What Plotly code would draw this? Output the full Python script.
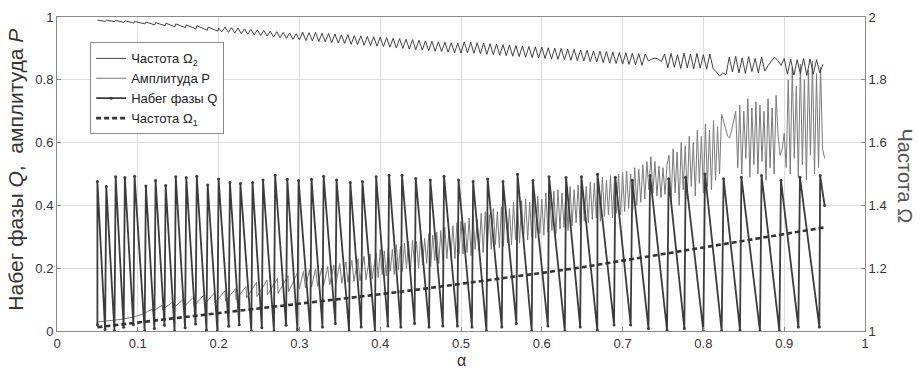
import plotly.graph_objects as go

# ---------------- data ----------------
# Phase shift Q: sawtooth (start, peaks, troughs, end)
Q_START = (0.050, 0.020)
Q_PEAK_ALPHA = [0.050, 0.061, 0.0726, 0.084, 0.096, 0.110, 0.122, 0.1345, 0.147, 0.160,
                0.173, 0.1865, 0.200, 0.214, 0.227, 0.242, 0.255, 0.270, 0.285, 0.299,
                0.315, 0.330, 0.346, 0.363, 0.378, 0.395, 0.411, 0.427, 0.444, 0.462,
                0.479, 0.497, 0.515, 0.533, 0.552, 0.570, 0.589, 0.609, 0.630, 0.649,
                0.669, 0.691, 0.712, 0.734, 0.757, 0.778, 0.802, 0.825, 0.847, 0.872,
                0.896, 0.9195, 0.9445]
Q_PEAK = [0.476, 0.460, 0.491, 0.489, 0.493, 0.462, 0.479, 0.463, 0.491, 0.489,
          0.493, 0.465, 0.484, 0.473, 0.470, 0.473, 0.481, 0.496, 0.483, 0.479,
          0.483, 0.493, 0.481, 0.473, 0.476, 0.491, 0.496, 0.496, 0.486, 0.481,
          0.493, 0.481, 0.476, 0.484, 0.476, 0.499, 0.479, 0.491, 0.489, 0.491,
          0.499, 0.490, 0.480, 0.495, 0.485, 0.490, 0.500, 0.485, 0.490, 0.495,
          0.480, 0.490, 0.495]
Q_TROUGH_ALPHA = [0.0595, 0.0711, 0.0825, 0.0945, 0.1085, 0.1205, 0.133, 0.1455, 0.1585, 0.1715,
                  0.185, 0.1985, 0.2125, 0.2255, 0.2405, 0.2535, 0.2685, 0.2835, 0.2975, 0.3135,
                  0.3285, 0.3445, 0.3615, 0.3765, 0.3935, 0.4095, 0.4255, 0.4425, 0.4605, 0.4775,
                  0.4955, 0.5135, 0.5315, 0.5505, 0.5685, 0.5875, 0.6075, 0.6285, 0.6475, 0.6687,
                  0.6894, 0.710, 0.732, 0.755, 0.7764, 0.7999, 0.8226, 0.8453, 0.870, 0.894,
                  0.9175, 0.9435]
Q_TROUGH = [0.005, 0.0, 0.012, 0.02, 0.0, 0.008, 0.018, 0.0, 0.01, 0.022,
            0.003, 0.0, 0.015, 0.02, 0.0, 0.01, 0.0, 0.018, 0.005, 0.0,
            0.013, 0.024, 0.0, 0.013, 0.0, 0.016, 0.013, 0.024, 0.013, 0.016,
            0.016, 0.013, 0.0, 0.013, 0.024, 0.0, 0.016, 0.0, 0.013, 0.003,
            0.019, 0.019, 0.008, 0.003, 0.008, 0.0, 0.0, 0.003, 0.0, 0.0,
            0.013, 0.013]
Q_END = (0.950, 0.400)

# Frequency Omega1 (right axis)
OM1_ALPHA = [0.05, 0.10, 0.15, 0.20, 0.25, 0.30, 0.35, 0.40, 0.45, 0.50,
             0.55, 0.60, 0.65, 0.70, 0.75, 0.80, 0.85, 0.90, 0.95]
OM1 = [1.012, 1.027, 1.042, 1.056, 1.070, 1.085, 1.100, 1.117, 1.133, 1.150,
       1.166, 1.185, 1.203, 1.223, 1.245, 1.266, 1.288, 1.310, 1.330]

# Frequency Omega2 (right axis)
OM2_EARLY_ALPHA = [0.050, 0.060, 0.061, 0.071, 0.072, 0.083, 0.084, 0.095, 0.096, 0.109,
                   0.110, 0.121, 0.122, 0.134, 0.135, 0.146, 0.147, 0.159, 0.160, 0.172,
                   0.173, 0.186, 0.187, 0.199, 0.200]
OM2_EARLY = [1.990, 1.986, 1.990, 1.985, 1.989, 1.983, 1.988, 1.981, 1.986, 1.978,
             1.984, 1.975, 1.982, 1.972, 1.980, 1.969, 1.978, 1.966, 1.975, 1.962,
             1.972, 1.958, 1.968, 1.955, 1.965]
OM2_STEP = 0.004
OM2_SEGMENTS = [
    (0.204, [1.953, 1.968, 1.951, 1.966, 1.949, 1.965, 1.947, 1.962, 1.945, 1.961,
             1.943, 1.959, 1.941, 1.957, 1.939, 1.955, 1.936, 1.953, 1.934, 1.951,
             1.932, 1.949, 1.929, 1.947, 1.927]),
    (0.304, [1.952, 1.925, 1.950, 1.924, 1.951, 1.922, 1.948, 1.921, 1.947, 1.918,
             1.946, 1.917, 1.943, 1.916, 1.944, 1.913, 1.941, 1.912, 1.940, 1.910,
             1.938, 1.909, 1.937, 1.907, 1.936, 1.906, 1.934, 1.904, 1.932, 1.901,
             1.931, 1.900, 1.929, 1.898, 1.928, 1.896, 1.926, 1.895, 1.924, 1.893,
             1.923, 1.891, 1.921, 1.890, 1.920, 1.888, 1.918, 1.886, 1.917, 1.885]),
    (0.504, [1.921, 1.886, 1.920, 1.884, 1.918, 1.883, 1.917, 1.881, 1.915, 1.880,
             1.914, 1.878, 1.912, 1.877, 1.911, 1.875, 1.909, 1.874, 1.908, 1.872,
             1.906, 1.871, 1.905, 1.869, 1.904, 1.868, 1.902, 1.866, 1.901, 1.865,
             1.900, 1.864, 1.898, 1.862, 1.897, 1.861, 1.895, 1.860, 1.894, 1.858,
             1.892, 1.857, 1.891, 1.855, 1.890, 1.853, 1.888, 1.852, 1.887, 1.850,
             1.886, 1.849, 1.884, 1.848, 1.883, 1.846, 1.882]),
    (0.732, [1.860, 1.866, 1.869, 1.866, 1.858]),
    (0.752, [1.882, 1.838, 1.884, 1.840, 1.880, 1.836, 1.885, 1.838, 1.882, 1.835,
             1.884, 1.837, 1.880, 1.834, 1.882, 1.836]),
    (0.816, [1.825, 1.812, 1.822, 1.816]),
    (0.832, [1.872, 1.825, 1.875, 1.822, 1.870, 1.820, 1.874, 1.826, 1.868, 1.822,
             1.872, 1.828]),
    (0.880, [1.845, 1.858, 1.872, 1.862, 1.846]),
    (0.900, [1.868, 1.818, 1.866, 1.815, 1.864, 1.820, 1.868, 1.814, 1.866, 1.818,
             1.864, 1.822, 1.850]),
]

# Amplitude P (left axis)
P_EARLY_ALPHA = [0.050, 0.065, 0.080, 0.095, 0.105, 0.112, 0.118, 0.1185, 0.130, 0.1305,
                 0.143, 0.1435, 0.156, 0.1565, 0.169, 0.1695, 0.182, 0.1825, 0.195, 0.1955,
                 0.208, 0.2085, 0.221, 0.2215, 0.234, 0.2345, 0.247, 0.2475, 0.260, 0.2605,
                 0.273, 0.2735, 0.286, 0.2865, 0.2975]
P_EARLY = [0.029, 0.032, 0.037, 0.045, 0.053, 0.062, 0.070, 0.062, 0.082, 0.068,
           0.092, 0.072, 0.100, 0.076, 0.108, 0.080, 0.115, 0.085, 0.122, 0.090,
           0.128, 0.095, 0.135, 0.100, 0.142, 0.105, 0.155, 0.110, 0.162, 0.115,
           0.168, 0.120, 0.176, 0.125, 0.185]
P_STEP = 0.0025
P_SEGMENTS = [
    (0.300, [.135, .16, .19, .138, .165, .195, .14, .168, .198, .142,
             .17, .20, .145, .172, .205, .147, .176, .21, .15, .18,
             .215, .152, .183, .22, .155, .188, .225, .158, .19, .23,
             .16, .195, .238, .163, .20, .245, .166, .205, .25, .17, .26]),
    (0.4025, [.18, .255, .175, .265, .19, .26, .18, .275, .195, .27,
              .19, .28, .2, .285, .195, .29, .21, .285, .2, .30,
              .21, .295, .215, .31, .205, .305, .225, .315, .215, .32,
              .225, .33, .23, .32, .24, .335, .23, .345, .245, .35]),
    (0.5025, [.245, .345, .25, .36, .24, .37, .26, .355, .255, .375,
              .25, .38, .265, .37, .26, .39, .275, .38, .265, .395,
              .27, .40, .28, .39, .275, .41, .29, .40, .28, .415,
              .295, .42, .29, .41, .30, .425, .295, .43, .31, .42]),
    (0.6025, [.305, .44, .315, .43, .32, .445, .31, .45, .325, .44,
              .33, .455, .32, .46, .335, .45, .345, .465, .335, .47,
              .35, .46, .345, .475, .355, .47, .36, .48, .35, .49,
              .365, .48, .37, .495, .36, .49, .375, .50, .37, .505]),
    (0.7025, [.38, .51, .39, .50, .385, .52, .40, .515, .41, .53, .42, .54]),
    (0.7325, [.45, .555, .44, .54, .43, .525, .425, .52, .435, .53]),
    (0.7575, [.56, .41, .58, .44, .57, .40, .60, .45, .59, .42,
              .62, .46, .60, .43, .64, .47, .62, .44, .66, .46,
              .64, .45, .67, .48, .65, .50]),
    (0.8225, [.69, .67, .645, .62, .615, .64, .67, .70]),
    (0.8425, [.52, .72, .50, .70, .55, .74, .49, .71, .53, .73,
              .50, .72, .54, .70, .48, .74, .52, .71, .50, .75]),
    (0.8925, [.62, .56, .58, .63, .52, .80, .50, .84, .55, .78,
              .49, .85, .53, .80, .48, .83, .56, .86, .50, .82,
              .52, .84, .58, .55]),
]

X_TICKS = [0, 0.1, 0.2, 0.3, 0.4, 0.5, 0.6, 0.7, 0.8, 0.9, 1]
X_TICKTEXT = ["0", "0.1", "0.2", "0.3", "0.4", "0.5", "0.6", "0.7", "0.8", "0.9", "1"]
Y_TICKS = [0, 0.2, 0.4, 0.6, 0.8, 1]
Y_TICKTEXT = ["0", "0.2", "0.4", "0.6", "0.8", "1"]
Y2_TICKS = [1, 1.2, 1.4, 1.6, 1.8, 2]
Y2_TICKTEXT = ["1", "1.2", "1.4", "1.6", "1.8", "2"]


def expand(early_x, early_y, segments, step):
    xs, ys = list(early_x), list(early_y)
    for start, vals in segments:
        for k, v in enumerate(vals):
            xs.append(round(start + step * k, 5))
            ys.append(v)
    return xs, ys


q_x, q_y = [Q_START[0]], [Q_START[1]]
for i in range(len(Q_PEAK)):
    q_x.append(Q_PEAK_ALPHA[i]); q_y.append(Q_PEAK[i])
    if i < len(Q_TROUGH):
        q_x.append(Q_TROUGH_ALPHA[i]); q_y.append(Q_TROUGH[i])
q_x.append(Q_END[0]); q_y.append(Q_END[1])

om2_x, om2_y = expand(OM2_EARLY_ALPHA, OM2_EARLY, OM2_SEGMENTS, OM2_STEP)
p_x, p_y = expand(P_EARLY_ALPHA, P_EARLY, P_SEGMENTS, P_STEP)

FONT = "Liberation Sans, Arial, sans-serif"

fig = go.Figure()
fig.add_trace(go.Scatter(x=om2_x, y=om2_y, yaxis="y2", mode="lines",
                         name="Частота Ω<sub>2</sub>",
                         line=dict(color="#2e2e2e", width=0.9)))
fig.add_trace(go.Scatter(x=p_x, y=p_y, mode="lines", name="Амплитуда P",
                         line=dict(color="#7a7a7a", width=1)))
fig.add_trace(go.Scatter(x=q_x, y=q_y, mode="lines+markers", name="Набег фазы Q",
                         line=dict(color="#3c3c3c", width=1.8),
                         marker=dict(size=3, color="#3c3c3c")))
fig.add_trace(go.Scatter(x=OM1_ALPHA, y=OM1, yaxis="y2", mode="lines",
                         name="Частота Ω<sub>1</sub>",
                         line=dict(color="#333333", width=2.6, dash="5px,3px")))

axis_common = dict(showline=True, linecolor="#8a8a8a", linewidth=1, ticks="inside",
                   ticklen=4, tickcolor="#8a8a8a", zeroline=False,
                   tickfont=dict(family=FONT, size=13, color="#333"))

fig.update_layout(
    width=921, height=372,
    margin=dict(l=57, r=56, t=10, b=41),
    plot_bgcolor="white", paper_bgcolor="white",
    font=dict(family=FONT, color="#333"),
    showlegend=True,
    xaxis=dict(range=[0, 1], tickvals=X_TICKS, ticktext=X_TICKTEXT, mirror=True,
               showgrid=True, gridcolor="#dedede", gridwidth=1, **axis_common),
    yaxis=dict(range=[0, 1], tickvals=Y_TICKS, ticktext=Y_TICKTEXT, mirror=True,
               showgrid=True, gridcolor="#dedede", gridwidth=1, **axis_common),
    yaxis2=dict(range=[1, 2], tickvals=Y2_TICKS, ticktext=Y2_TICKTEXT, overlaying="y",
                side="right", showgrid=False, **axis_common),
    legend=dict(x=0.041, y=0.919, xanchor="left", yanchor="top", bgcolor="white",
                bordercolor="#8a8a8a", borderwidth=1, itemwidth=30,
                font=dict(family=FONT, size=13, color="#222")),
    annotations=[
        dict(text="Набег фазы <i>Q</i>,  амплитуда <i>P</i>", textangle=-90,
             xref="paper", yref="paper", x=-0.0507, y=0.514, showarrow=False,
             xanchor="center", yanchor="middle",
             font=dict(family=FONT, size=21, color="#333")),
        dict(text="Частота Ω", textangle=90, xref="paper", yref="paper",
             x=1.0495, y=0.492, showarrow=False, xanchor="center", yanchor="middle",
             font=dict(family=FONT, size=20, color="#555")),
        dict(text="α", xref="paper", yref="paper", x=0.5, y=-0.094, showarrow=False,
             xanchor="center", yanchor="middle",
             font=dict(family=FONT, size=16, color="#333")),
    ],
)

fig.write_html("out.html",
               config={"displayModeBar": False},
               post_script="document.body.style.margin='0px';"
                           "document.body.style.padding='0px';"
                           "document.body.style.overflow='hidden';")
